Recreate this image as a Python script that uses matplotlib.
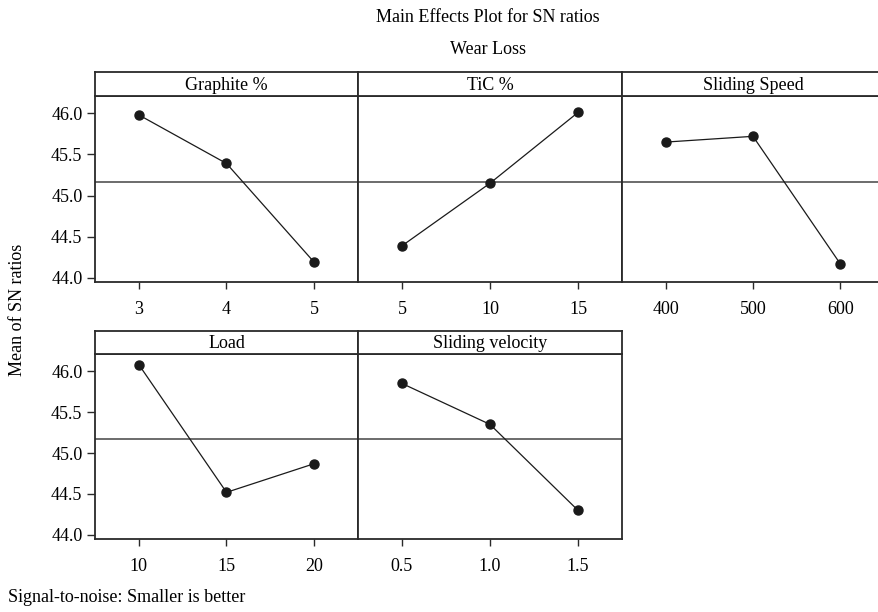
import matplotlib
matplotlib.use("Agg")
import matplotlib.pyplot as plt

plt.rcParams['font.family'] = ['Liberation Serif', 'DejaVu Serif']

factors = ["Graphite %", "TiC %", "Sliding Speed", "Load", "Sliding velocity"]
levels = [["3", "4", "5"], ["5", "10", "15"], ["400", "500", "600"],
          ["10", "15", "20"], ["0.5", "1.0", "1.5"]]
sn_means = [[45.98, 45.39, 44.19],
            [44.39, 45.15, 46.01],
            [45.65, 45.72, 44.17],
            [46.08, 44.52, 44.87],
            [45.85, 45.35, 44.30]]
grand_mean = 45.17
yticks = [44.0, 44.5, 45.0, 45.5, 46.0]

W, H = 879, 612
fig = plt.figure(figsize=(W / 100, H / 100), dpi=100)

def px_axes(x0, y0, x1, y1):
    # pixel coords (top-left origin) -> figure fraction
    return fig.add_axes([x0 / W, 1 - y1 / H, (x1 - x0) / W, (y1 - y0) / H])

col_x = [(95, 358), (358, 622), (622, 884)]
rows = [(72, 96, 282), (331, 354, 539)]
edge = '#2a2a2a'
fs = 13

positions = [(0, 0), (0, 1), (0, 2), (1, 0), (1, 1)]
for i, (r, c) in enumerate(positions):
    x0, x1 = col_x[c]
    st, sb, pb = rows[r]
    ax = px_axes(x0, sb, x1, pb)
    sax = px_axes(x0, st, x1, sb)
    sax.set_xticks([]); sax.set_yticks([])
    for s in sax.spines.values():
        s.set_color(edge); s.set_linewidth(1.3)
    sax.text(0.5, 0.45, factors[i], ha='center', va='center', fontsize=fs,
             transform=sax.transAxes)

    xs = list(range(len(levels[i])))
    ax.axhline(grand_mean, color='#444444', lw=1.1, zorder=1)
    ax.plot(xs, sn_means[i], color='#1a1a1a', lw=0.9, marker='o',
            markersize=6.5, zorder=3)
    ax.set_xlim(-0.5, 2.5)
    ax.set_ylim(43.95, 46.21)
    ax.set_xticks(xs)
    ax.set_xticklabels(levels[i], fontsize=fs)
    ax.tick_params(axis='x', length=5, width=1, pad=9, color=edge)
    if c == 0:
        ax.set_yticks(yticks)
        ax.set_yticklabels([f"{v:.1f}" for v in yticks], fontsize=fs)
        ax.tick_params(axis='y', length=6, width=1, pad=3, color=edge)
    else:
        ax.set_yticks([])
    for s in ax.spines.values():
        s.set_color(edge); s.set_linewidth(1.3)

fig.text(488 / W, 1 - 18 / H, "Main Effects Plot for SN ratios", ha='center',
         va='center', fontsize=fs)
fig.text(488 / W, 1 - 50 / H, "Wear Loss", ha='center', va='center', fontsize=fs)
fig.text(18 / W, 1 - 310 / H, "Mean of SN ratios", rotation=90, ha='center',
         va='center', fontsize=fs)
fig.text(8 / W, 1 - 597 / H, "Signal-to-noise: Smaller is better", ha='left',
         va='center', fontsize=fs)

fig.savefig("out.png", dpi=100)
